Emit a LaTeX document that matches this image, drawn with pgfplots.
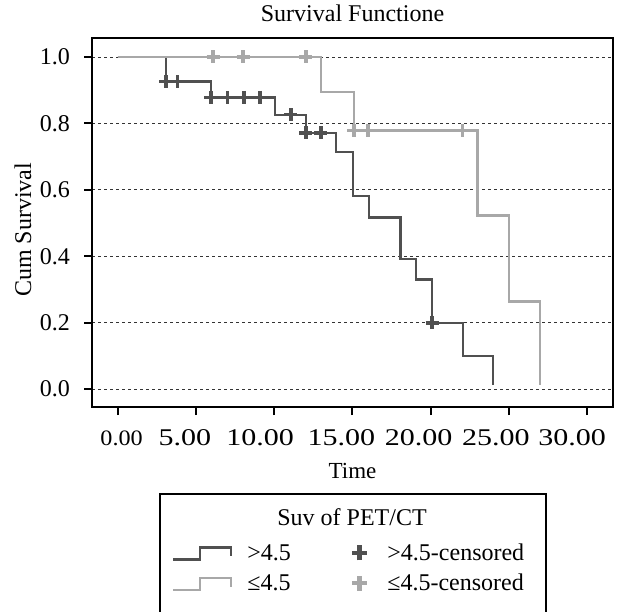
\documentclass[border=0pt]{standalone}
\usepackage{fontspec}
\setmainfont{Liberation Serif}
\usepackage{graphicx}
\usepackage{pgfplots}
\pgfplotsset{compat=1.18}
\definecolor{dk}{HTML}{505050}
\definecolor{lt}{HTML}{A8A8A8}
% shifted, stretched tick label: #1 = shift x2, #2 = text
\newcommand\tl[2]{\makebox[0pt]{\hspace*{#1}\scalebox{1.25}[1]{#2}}}

\begin{document}
\begin{tikzpicture}[x=1pt,y=1pt]
\begin{axis}[
  at={(92pt,204pt)}, anchor=south west,
  scale only axis, width=521pt, height=369pt,
  xmin=-1.64, xmax=31.65, ymin=-0.054, ymax=1.057,
  axis line style={line width=2.4pt},
  xtick={0,5,10,15,20,25,30},
  xticklabels={{\makebox[0pt]{\hspace*{8pt}\fontsize{22}{22}\selectfont\scalebox{1.1}[1]{0.00}}},
    \tl{-22pt}{5.00},\tl{-28pt}{10.00},\tl{-22pt}{15.00},\tl{-24pt}{20.00},\tl{-26pt}{25.00},\tl{-30pt}{30.00}},
  ytick={0,0.2,0.4,0.6,0.8,1.0},
  yticklabels={0.0,0.2,0.4,0.6,0.8,1.0},
  xtick pos=bottom, ytick pos=left,
  tick align=outside, major tick length=8pt,
  tick style={line width=2pt, black},
  xticklabel style={font=\fontsize{24}{24}\selectfont, anchor=north, inner sep=0pt,
    text height=17pt, text depth=0pt, yshift=-13pt},
  yticklabel style={font=\fontsize{24}{24}\selectfont, anchor=east, inner sep=0pt, xshift=-14pt},
  ymajorgrids, grid style={dashed, black!80, line width=0.7pt},
  title={Survival Functione},
  title style={font=\fontsize{24}{24}\selectfont, at={(0.5,1.0298)}, anchor=base, inner sep=0pt},
  xlabel={Time},
  xlabel style={font=\fontsize{23}{23}\selectfont, at={(0.5,-0.1951)}, anchor=base, inner sep=0pt},
  ylabel={Cum Survival},
  ylabel style={font=\fontsize{24}{24}\selectfont, at={(-0.1324,0.48)}, anchor=center, inner sep=0pt},
  legend columns=2,
  legend cell align=left,
  legend style={draw=none, fill=none, inner sep=0pt,
    at={(0.1536,-0.3686)}, anchor=north west,
    font=\fontsize{24}{24}\selectfont,
    nodes={inner sep=0pt, text height=17pt, text depth=5pt},
    /tikz/every odd column/.append style={column sep=15pt},
    /tikz/every even column/.append style={column sep=59pt},
    row sep=8pt},
]
% >4.5
\addplot[const plot, dk, line width=2.4pt,
  legend image code/.code={\draw[dk, line width=2.2pt] (0pt,-5pt) -- (27pt,-5pt) -- (27pt,7pt) -- (58pt,7pt) -- (58pt,-2pt);}]
  coordinates {(0,1) (3.08,0.926) (5.96,0.878) (10.04,0.826) (12.02,0.771) (13.96,0.713) (15.04,0.582) (16.07,0.516) (18.07,0.391) (19.05,0.330) (20.09,0.199) (22.07,0.100) (23.98,0.013)};
\addlegendentry{>4.5}
\addplot[only marks, mark=+, mark size=6.5pt, dk, mark options={line width=3.5pt},
  legend image code/.code={\draw[dk, line width=4.5pt] (0pt,1.5pt) -- (15pt,1.5pt) (7.5pt,-6pt) -- (7.5pt,9pt); \path (20pt,0pt);}]
  coordinates {(3.08,0.926) (3.83,0.926) (5.96,0.878) (7.02,0.878) (8.07,0.878) (9.09,0.878) (11.07,0.826) (12.02,0.771) (12.98,0.771) (20.09,0.199)};
\addlegendentry{>4.5-censored}
% <=4.5
\addplot[const plot, lt, line width=2.4pt,
  legend image code/.code={\draw[lt, line width=2.2pt] (0pt,-5pt) -- (27pt,-5pt) -- (27pt,7pt) -- (58pt,7pt) -- (58pt,-2pt);}]
  coordinates {(0,1) (12.98,0.894) (15.1,0.779) (22.99,0.522) (25.0,0.264) (27.0,0.013)};
\addlegendentry{≤4.5}
\addplot[only marks, mark=+, mark size=6.5pt, lt, mark options={line width=3.5pt},
  legend image code/.code={\draw[lt, line width=4.5pt] (0pt,1.5pt) -- (15pt,1.5pt) (7.5pt,-6pt) -- (7.5pt,9pt); \path (20pt,0pt);}]
  coordinates {(6.1,1) (8.02,1) (12.02,1) (15.1,0.779) (16.0,0.779) (22.03,0.779)};
\addlegendentry{≤4.5-censored}
\end{axis}
\draw[line width=2pt] (160,-30) -- (160,117) -- (546,117) -- (546,-30);
\node[font=\fontsize{24}{24}\selectfont, anchor=base, inner sep=0pt] at (352,86) {Suv of PET/CT};
\pgfresetboundingbox
\path[use as bounding box] (0,0) rectangle (620,611);
\end{tikzpicture}
\end{document}
